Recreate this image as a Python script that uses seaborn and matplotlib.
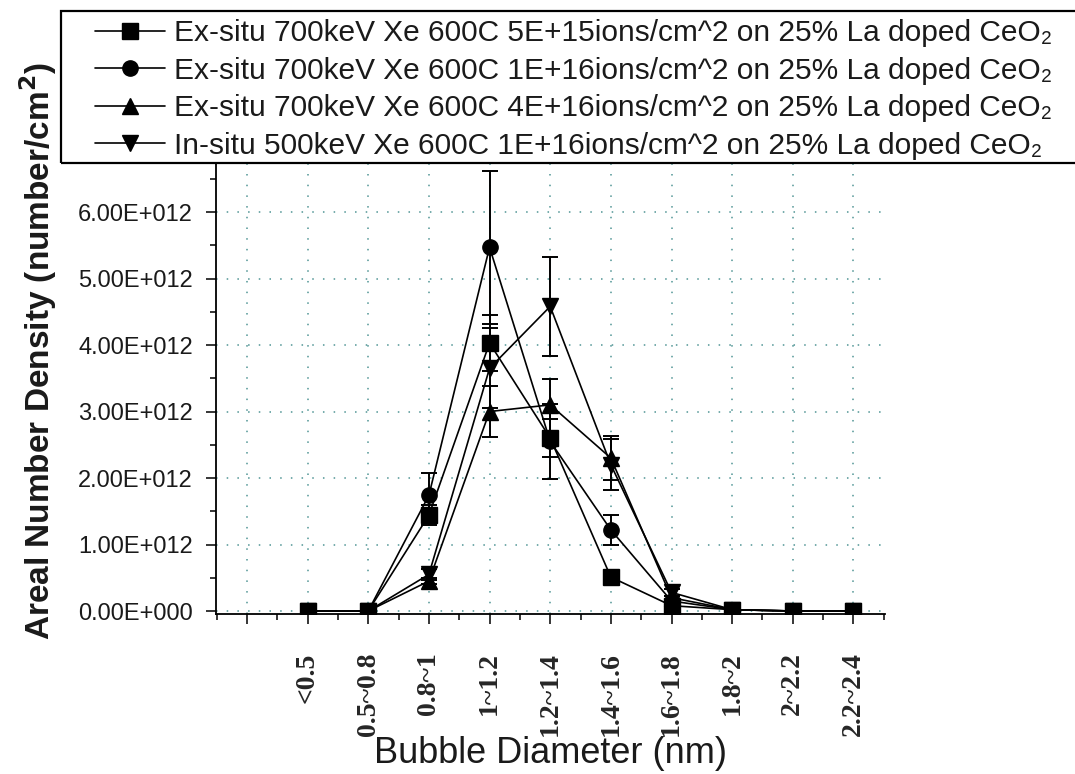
import numpy as np
import pandas as pd
import matplotlib
matplotlib.use("Agg")
import matplotlib.pyplot as plt
import seaborn as sns
from matplotlib.ticker import MultipleLocator, FuncFormatter, FixedLocator
from matplotlib.patches import Rectangle
import math

# ---------------- data ----------------
categories = ['<0.5', '0.5~0.8', '0.8~1', '1~1.2', '1.2~1.4', '1.4~1.6',
              '1.6~1.8', '1.8~2', '2~2.2', '2.2~2.4']

series_names = [
    'Ex-situ 700keV Xe 600C 5E+15ions/cm^2 on 25% La doped CeO\u2082',
    'Ex-situ 700keV Xe 600C 1E+16ions/cm^2 on 25% La doped CeO\u2082',
    'Ex-situ 700keV Xe 600C 4E+16ions/cm^2 on 25% La doped CeO\u2082',
    'In-situ 500keV Xe 600C 1E+16ions/cm^2 on 25% La doped CeO\u2082',
]

exsitu_5e15 = [0, 0, 1.44e12, 4.03e12, 2.60e12, 0.51e12, 0.08e12, 0.02e12, 0, 0]
exsitu_5e15_err = [0, 0, 0.15e12, 0.42e12, 0.28e12, 0, 0, 0, 0, 0]

exsitu_1e16 = [0, 0, 1.74e12, 5.47e12, 2.55e12, 1.22e12, 0.15e12, 0.02e12, 0, 0]
exsitu_1e16_err = [0, 0, 0.33e12, 1.15e12, 0.57e12, 0.23e12, 0, 0, 0, 0]

exsitu_4e16 = [0, 0, 0.45e12, 3.00e12, 3.10e12, 2.30e12, 0.20e12, 0.02e12, 0, 0]
exsitu_4e16_err = [0, 0, 0.05e12, 0.38e12, 0.39e12, 0.33e12, 0.03e12, 0, 0, 0]

insitu_1e16 = [0, 0, 0.55e12, 3.65e12, 4.58e12, 2.20e12, 0.28e12, 0.02e12, 0, 0]
insitu_1e16_err = [0, 0, 0.08e12, 0.60e12, 0.75e12, 0.38e12, 0.05e12, 0, 0, 0]

values = [exsitu_5e15, exsitu_1e16, exsitu_4e16, insitu_1e16]
errors = [exsitu_5e15_err, exsitu_1e16_err, exsitu_4e16_err, insitu_1e16_err]
marker_list = ['s', 'o', '^', 'v']

# ---------------- figure ----------------
W, H = 1075, 774
sns.set_style("white")
plt.rcParams['font.family'] = ['Liberation Sans', 'DejaVu Sans']

fig = plt.figure(figsize=(W / 100, H / 100), dpi=100)
ax_left, ax_right, ax_top, ax_bottom = 216, 885, 163, 614
ax = fig.add_axes([ax_left / W, 1 - ax_bottom / H,
                   (ax_right - ax_left) / W, (ax_bottom - ax_top) / H])

idx = np.arange(len(categories))
df = pd.DataFrame({
    'x': np.tile(idx, len(series_names)),
    'y': np.concatenate([np.asarray(v, float) for v in values]),
    'series': np.repeat(series_names, len(categories)),
})

sns.lineplot(data=df, x='x', y='y', hue='series', style='series',
             hue_order=series_names, style_order=series_names,
             palette=['black'] * 4, markers=marker_list, dashes=False,
             markersize=11, markeredgecolor='black', markeredgewidth=1,
             linewidth=1.2, legend=False, ax=ax, zorder=3)
data_lines = list(ax.get_lines())

for v, e in zip(values, errors):
    v = np.asarray(v, float)
    e = np.asarray(e, float)
    m = e > 0
    ax.errorbar(idx[m], v[m], yerr=e[m], fmt='none', ecolor='black',
                elinewidth=1.4, capsize=6, capthick=1.4, zorder=2)

# axes limits / ticks
ax.set_xlim(-1.51, 9.52)
ax.set_ylim(-0.045e12, 6.737e12)

ax.xaxis.set_major_locator(FixedLocator(np.arange(-1, 10)))
ax.xaxis.set_minor_locator(FixedLocator(np.arange(-1.5, 9.6, 1.0)))
ax.set_xticklabels([''] + categories, rotation=90, fontfamily='Liberation Serif',
                   fontweight='bold', fontsize=20, va='top', ha='center')

def sci_fmt(v, pos):
    if abs(v) < 1e-3:
        return '0.00E+000'
    ex = int(math.floor(math.log10(abs(v))))
    mant = v / 10 ** ex
    return f'{mant:.2f}E+{ex:03d}'

ax.yaxis.set_major_locator(MultipleLocator(1e12))
ax.yaxis.set_minor_locator(MultipleLocator(0.5e12))
ax.yaxis.set_major_formatter(FuncFormatter(sci_fmt))
ax.yaxis.offsetText.set_visible(False)

ax.tick_params(axis='both', which='major', direction='out', length=7.5,
               width=1.1, color='black', left=True, bottom=True)
ax.tick_params(axis='both', which='minor', direction='out', length=4,
               width=1.1, color='black', left=True, bottom=True)
ax.tick_params(axis='y', which='major', pad=9, labelsize=17, labelcolor='#1a1a1a')
ax.tick_params(axis='x', which='major', pad=20)

for s in ['top', 'right']:
    ax.spines[s].set_visible(False)
for s in ['left', 'bottom']:
    ax.spines[s].set_color('black')
    ax.spines[s].set_linewidth(1.3)

ax.grid(True, which='major', axis='both', color='#4f9494',
        linestyle=(0, (1, 6)), linewidth=1.1)
ax.set_axisbelow(True)

ax.set_xlabel('Bubble Diameter (nm)', fontsize=26, color='#1a1a1a')
ax.xaxis.set_label_coords(0.5, -(763 - ax_bottom) / (ax_bottom - ax_top))
ax.xaxis.label.set_va('baseline')

ax.set_ylabel('Areal Number Density (number/cm$^\\mathbf{2}$)', fontsize=24,
              fontweight='bold', va='center', ha='center', color='#1a1a1a')
ax.yaxis.set_label_coords((38 - ax_left) / (ax_right - ax_left),
                          (ax_bottom - 351) / (ax_bottom - ax_top))

# ---------------- legend ----------------
fig.add_artist(Rectangle((61 / W, 1 - 163 / H), (1090 - 61) / W, (163 - 11) / H,
                         transform=fig.transFigure, fill=False,
                         edgecolor='black', linewidth=1.6, clip_on=False))
leg = fig.legend(data_lines, series_names, loc='upper left',
                 bbox_to_anchor=(95 / W, 1 - 19 / H), frameon=False,
                 borderpad=0, borderaxespad=0, handlelength=2.34,
                 handletextpad=0.31, labelspacing=0.32, fontsize=21.5)
for t in leg.get_texts():
    t.set_color('#1a1a1a')

fig.savefig('out.png', dpi=100)
